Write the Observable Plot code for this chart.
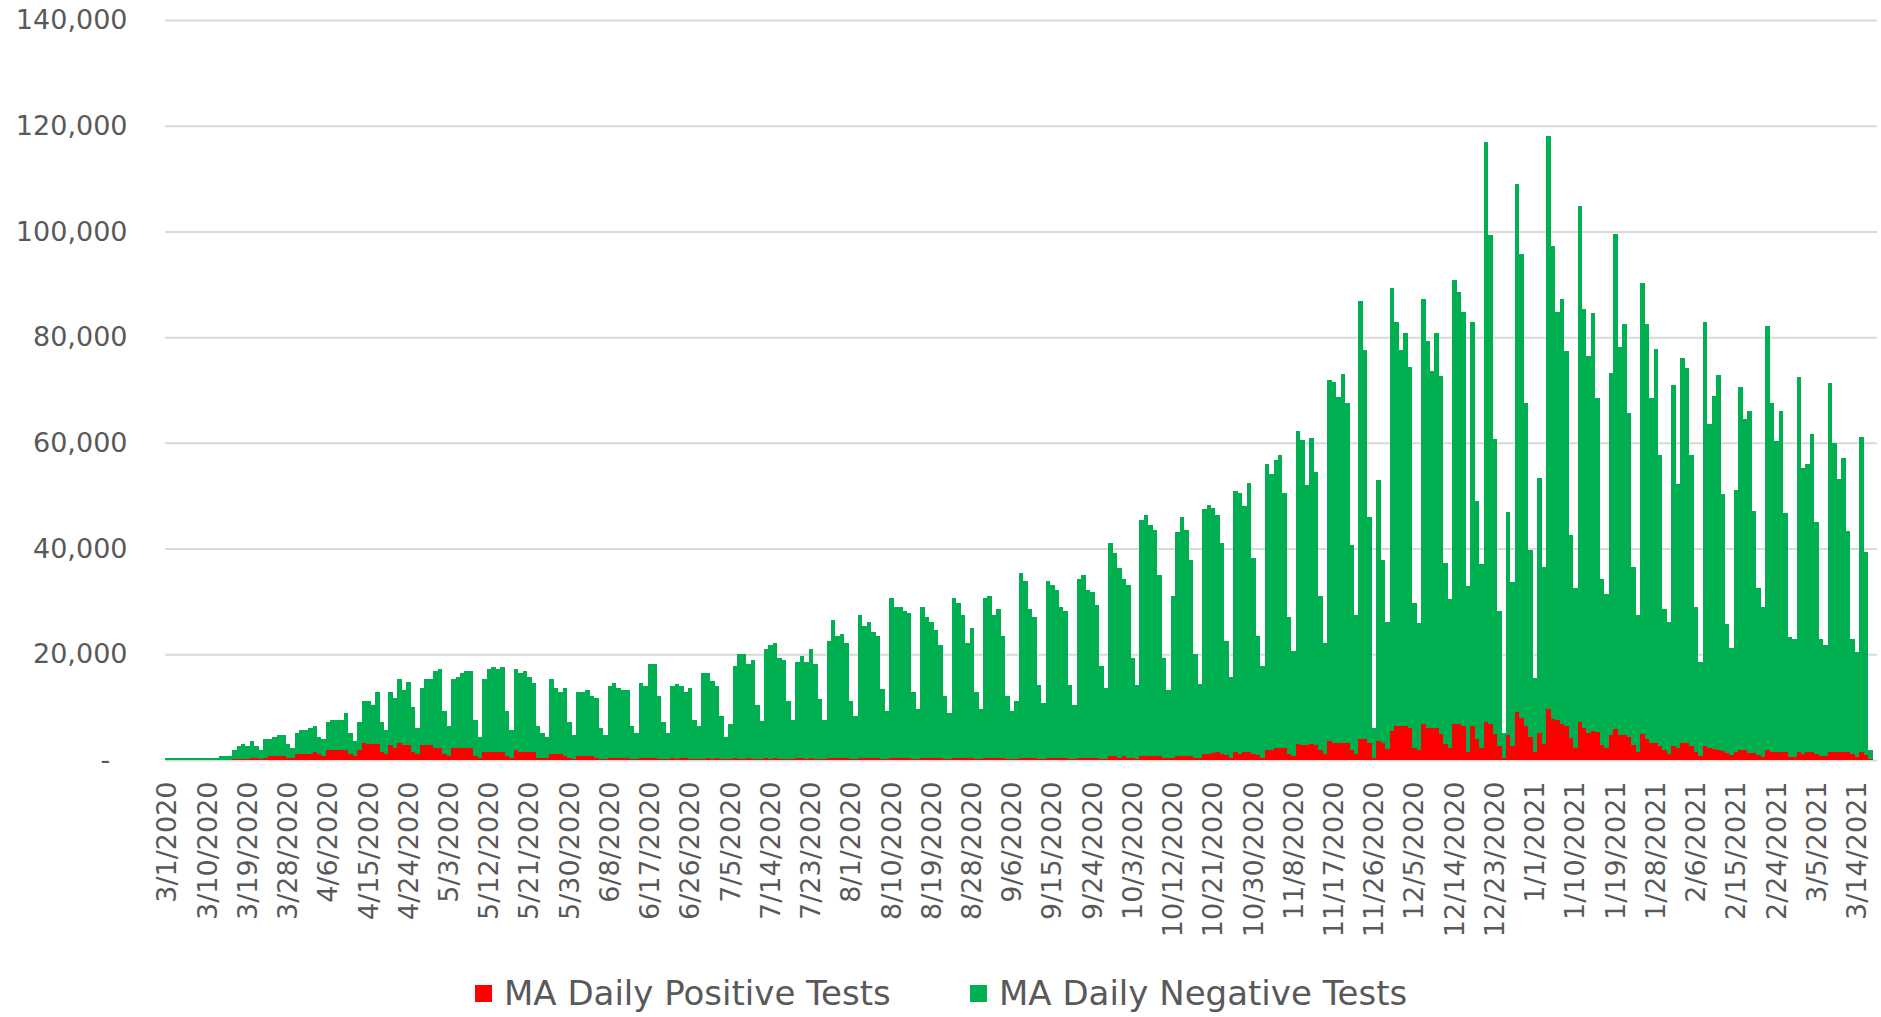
<!DOCTYPE html>
<html><head><meta charset="utf-8">
<script src="https://cdn.jsdelivr.net/npm/d3@7"></script>
<script src="https://cdn.jsdelivr.net/npm/@observablehq/plot@0.6"></script>
<style>
html,body{margin:0;padding:0;background:#fff;}
#wrap{position:relative;width:1881px;height:1017px;overflow:hidden;font-family:"DejaVu Sans",sans-serif;}
#legend{position:absolute;left:0;top:973px;width:1881px;height:40px;}
.item{position:absolute;top:0;height:40px;display:flex;align-items:center;font-size:34px;line-height:40px;color:#595959;white-space:nowrap;}
.sw{width:17px;height:17px;margin-right:12px;flex:none;}
</style></head><body><div id="wrap"><div id="chart"></div><div id="legend"></div></div>
<script>
const positive = [
0,0,0,0,0,0,0,0,0,0,
20,30,50,60,80,150,200,250,250,380,
380,150,380,760,760,760,760,380,380,1140,
1140,1140,1140,1520,1140,760,1900,1900,1960,1960,
1960,1200,820,1960,3150,2970,2970,2970,1580,1200,
2780,2330,3150,2780,2780,1580,1200,2780,2780,2780,
2330,2330,1200,820,2330,2330,2330,2330,2330,820,
440,1580,1580,1580,1580,1580,820,440,1960,1580,
1580,1580,1580,440,440,440,1200,1200,1200,820,
440,200,820,820,820,820,440,120,100,440,
440,440,440,440,120,100,440,440,440,440,
150,150,150,440,150,440,350,150,100,100,
150,350,150,350,150,100,100,350,150,150,
350,150,100,100,350,150,350,150,150,100,
100,350,350,150,350,150,100,100,350,350,
350,350,350,100,100,350,350,350,350,350,
100,100,350,350,350,350,350,100,100,350,
350,350,350,350,100,100,350,350,350,350,
350,100,100,350,350,350,350,350,100,100,
100,400,400,400,400,150,100,400,400,400,
400,400,150,100,400,400,400,400,400,200,
150,750,750,400,750,400,300,150,750,750,
750,750,750,350,300,350,750,750,750,750,
350,300,1100,1140,1300,1510,1200,880,440,1510,
1200,1510,1510,1200,880,440,1960,1960,2330,2330,
2330,1200,760,3090,2780,2780,3090,2780,1960,1200,
3600,3220,3220,3220,3220,1960,1200,3980,3980,3220,
440,3600,3220,2000,5580,6360,6360,6360,6040,2340,
1950,6750,5970,5970,5970,4940,3120,2340,6750,6750,
6360,1490,6360,3900,2340,7140,6750,4940,2660,390,
4680,2660,9090,7920,6360,4290,1430,5070,3120,9610,
7790,7530,6800,6430,4080,2350,7210,5960,5170,5570,
5250,2900,2350,4700,5880,4700,4700,4310,2900,1570,
4860,3920,3140,3140,2670,1880,1180,2740,2270,3140,
3140,2740,1570,780,2670,2270,2120,1880,1720,1330,
940,1500,1880,1830,1350,1350,1010,610,1830,1420,
1420,1420,1420,610,610,1420,1150,1420,1420,1150,
680,680,1420,1420,1420,1420,1420,1150,610,1420,
1010,100
];
const negative = [
300,300,320,320,350,350,350,380,380,400,
380,390,650,640,620,1750,2470,2800,2420,3180,
2290,1750,3560,3180,3560,4000,4000,2670,1910,4060,
4450,4450,4830,4830,3180,3180,5340,5720,5660,5670,
6870,3970,2840,5300,8080,8260,7500,9900,5680,4480,
10090,9410,12120,10470,12050,8450,4800,10910,12490,12490,
14520,14900,8010,5620,12940,13320,14140,14520,14520,6810,
3910,13690,15650,16090,15650,16090,8390,5180,15330,14950,
15330,14070,12930,5930,4730,3980,14070,12490,11740,12870,
6820,4600,12050,12050,12490,11300,11230,5880,4700,13630,
14070,13250,12870,12870,6250,5070,14070,13630,17670,17670,
11970,7040,5020,13630,14300,13630,12520,13540,7530,6340,
16380,16180,14740,13720,8240,4250,6710,17380,19980,19980,
17880,18720,10310,7220,20600,21560,21800,19220,18840,11130,
7530,18200,19400,18400,20600,18020,11510,7530,22180,26150,
23050,23440,21800,11130,8290,27050,25080,25840,23880,23060,
13280,9110,30250,28680,28680,27860,27480,12710,9620,28680,
26660,25840,24260,21420,11950,8800,30250,29430,27100,21860,
24640,12770,9550,30250,30760,27100,28230,23060,11950,9110,
11130,35060,33420,28180,26610,13980,10750,33480,32660,31840,
28630,27810,13980,10370,33860,34680,31840,31470,29000,17590,
13540,40330,38370,35880,33510,32660,19070,13980,44750,45550,
43670,42730,34330,19020,13010,30630,42410,45250,42730,37170,
19780,14150,46400,47160,46300,44810,39940,21650,15270,49290,
49220,46510,50930,37100,22530,17290,54070,52120,54520,55280,
48090,25810,19810,59060,57730,49280,57800,51680,29090,20950,
68210,68210,65430,69790,64230,38800,26190,82820,73520,42780,
5620,49280,34700,24190,83710,76500,71240,74430,68320,27400,
23900,80460,73260,67610,74820,67790,34220,28180,84100,81700,
78450,31500,76500,45130,34680,109860,92480,55780,25520,4680,
42270,31110,99910,87740,61240,35520,14090,48370,33440,108390,
89490,77280,80400,70870,38570,30190,97530,79420,71350,79020,
63190,31280,29090,68600,93610,73460,77850,61310,33630,25790,
85300,78630,65380,74550,54970,26660,25010,68130,50030,72910,
70950,54900,27360,17720,80280,61310,66790,70950,48530,24390,
20310,49630,68620,62660,64700,45770,31570,28390,80370,66180,
59010,64630,45220,22710,22310,71050,54080,54620,60230,43940,
22300,21090,69830,58540,51780,55700,41980,21830,19810,59760,
38330,1730
];
const seriesNames = ["MA Daily Positive Tests", "MA Daily Negative Tests"];
const seriesColors = ["#FF0000", "#00B050"];
const yTicks = [0, 20000, 40000, 60000, 80000, 100000, 120000, 140000];
const startDate = new Date(Date.UTC(2020, 2, 1));
const fmtDate = d3.utcFormat("%-m/%-d/%Y");
// category axis: one band per day, plus one trailing empty day as in the source chart
const dates = d3.utcDay.range(startDate, d3.utcDay.offset(startDate, positive.length + 1)).map(fmtDate);
const xTicks = dates.filter((d, i) => i % 9 === 0);

const data = [];
positive.forEach((v, i) => {
  data.push({date: dates[i], series: seriesNames[0], value: v});
  data.push({date: dates[i], series: seriesNames[1], value: negative[i]});
});

const chart = Plot.plot({
  width: 1881, height: 975,
  marginTop: 20, marginBottom: 215, marginLeft: 165, marginRight: 4,
  style: {fontFamily: "DejaVu Sans, sans-serif", fontSize: "27px", color: "#595959", background: "#fff"},
  x: {type: "band", domain: dates, padding: 0, label: null},
  y: {domain: [0, 140000], label: null},
  color: {domain: seriesNames, range: seriesColors},
  marks: [
    Plot.gridY(yTicks, {stroke: "#d9d9d9", strokeOpacity: 1, strokeWidth: 2}),
    Plot.barY(data, {x: "date", y: "value", fill: "series", order: seriesNames, shapeRendering: "crispEdges"}),
    Plot.axisY(yTicks, {tickSize: 0, tickPadding: 38, tickFormat: d => d === 0 ? "-\u00a0\u00a0" : d3.format(",")(d)}),
    Plot.axisX(xTicks, {tickSize: 0, tickPadding: 21, tickRotate: -90})
  ]
});
document.getElementById("chart").appendChild(chart);

const legendX = [475, 970];
const legend = document.getElementById("legend");
seriesNames.forEach((name, i) => {
  const item = document.createElement("div");
  item.className = "item";
  item.style.left = legendX[i] + "px";
  const sw = document.createElement("div");
  sw.className = "sw";
  sw.style.background = seriesColors[i];
  const t = document.createElement("span");
  t.textContent = name;
  item.appendChild(sw); item.appendChild(t);
  legend.appendChild(item);
});
</script></body></html>
